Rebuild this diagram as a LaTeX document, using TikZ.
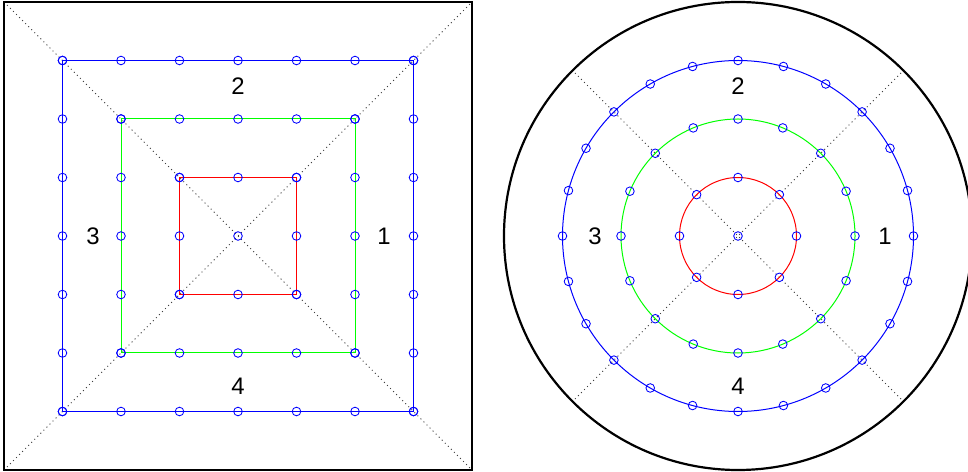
\documentclass[tikz,border=0pt]{standalone}
\usepackage{fontspec}
\setmainfont{Liberation Sans}
\begin{document}
\begin{tikzpicture}[x=1bp,y=-1bp,
  ring/.style={line width=1bp},
  mk/.style={draw=blue, line width=0.85bp, fill=none},
  diag/.style={line width=1bp, black!75, dash pattern=on 1bp off 3.3bp},
  lab/.style={font=\fontsize{24}{24}\selectfont, inner sep=0pt, text=black}]
\useasboundingbox (0,0) rectangle (968,472);
\clip (0,0) rectangle (968,472);
\def\u{58.5}
% ---------- left panel: squares ----------
\begin{scope}[shift={(238,236)}]
  \coordinate (L) at (0,0);
  \draw[diag] (-234,-234) -- (234,234);
  \draw[diag] (-234,234) -- (234,-234);
  \draw[line width=1.8bp] (-234,-234) rectangle (234,234);
  \draw[ring,red]   (-\u,-\u) rectangle (\u,\u);
  \draw[ring,green] (-2*\u,-2*\u) rectangle (2*\u,2*\u);
  \draw[ring,blue]  (-3*\u,-3*\u) rectangle (3*\u,3*\u);
  \foreach \k in {1,2,3}{
    \foreach \i in {-\k,...,\k}{
      \draw[mk] (\i*\u,-\k*\u) circle (4.3bp);
      \draw[mk] (\i*\u,\k*\u) circle (4.3bp);
      \draw[mk] (-\k*\u,\i*\u) circle (4.3bp);
      \draw[mk] (\k*\u,\i*\u) circle (4.3bp);
    }
  }
  \draw[mk] (L) circle (4.3bp);
  \node[lab] (l2) at (0,-150) {2};
  \node[lab] (l1) at (146,0) {1};
  \node[lab] (l3) at (-145,0) {3};
  \node[lab] (l4) at (0,150) {4};
\end{scope}
% ---------- right panel: circles ----------
\begin{scope}[shift={(738,236)}]
  \coordinate (R) at (0,0);
  \draw[diag] (-163,-163) -- (163,163);
  \draw[diag] (-163,163) -- (163,-163);
  \draw[line width=2.2bp] (R) circle (234bp);
  \draw[ring,red]   (R) circle (58.5bp);
  \draw[ring,green] (R) circle (117bp);
  \draw[ring,blue]  (R) circle (175.5bp);
  \foreach \k in {1,2,3}{
    \pgfmathtruncatemacro\n{8*\k-1}
    \foreach \j in {0,...,\n}{
      \draw[mk] ({\k*\u*cos(\j*45/\k)},{\k*\u*sin(\j*45/\k)}) circle (4.3bp);
    }
  }
  \draw[mk] (R) circle (4.3bp);
  \node[lab] (r2) at (0,-150) {2};
  \node[lab] (r1) at (147,0) {1};
  \node[lab] (r3) at (-143,0) {3};
  \node[lab] (r4) at (0,150) {4};
\end{scope}
\end{tikzpicture}
\end{document}
